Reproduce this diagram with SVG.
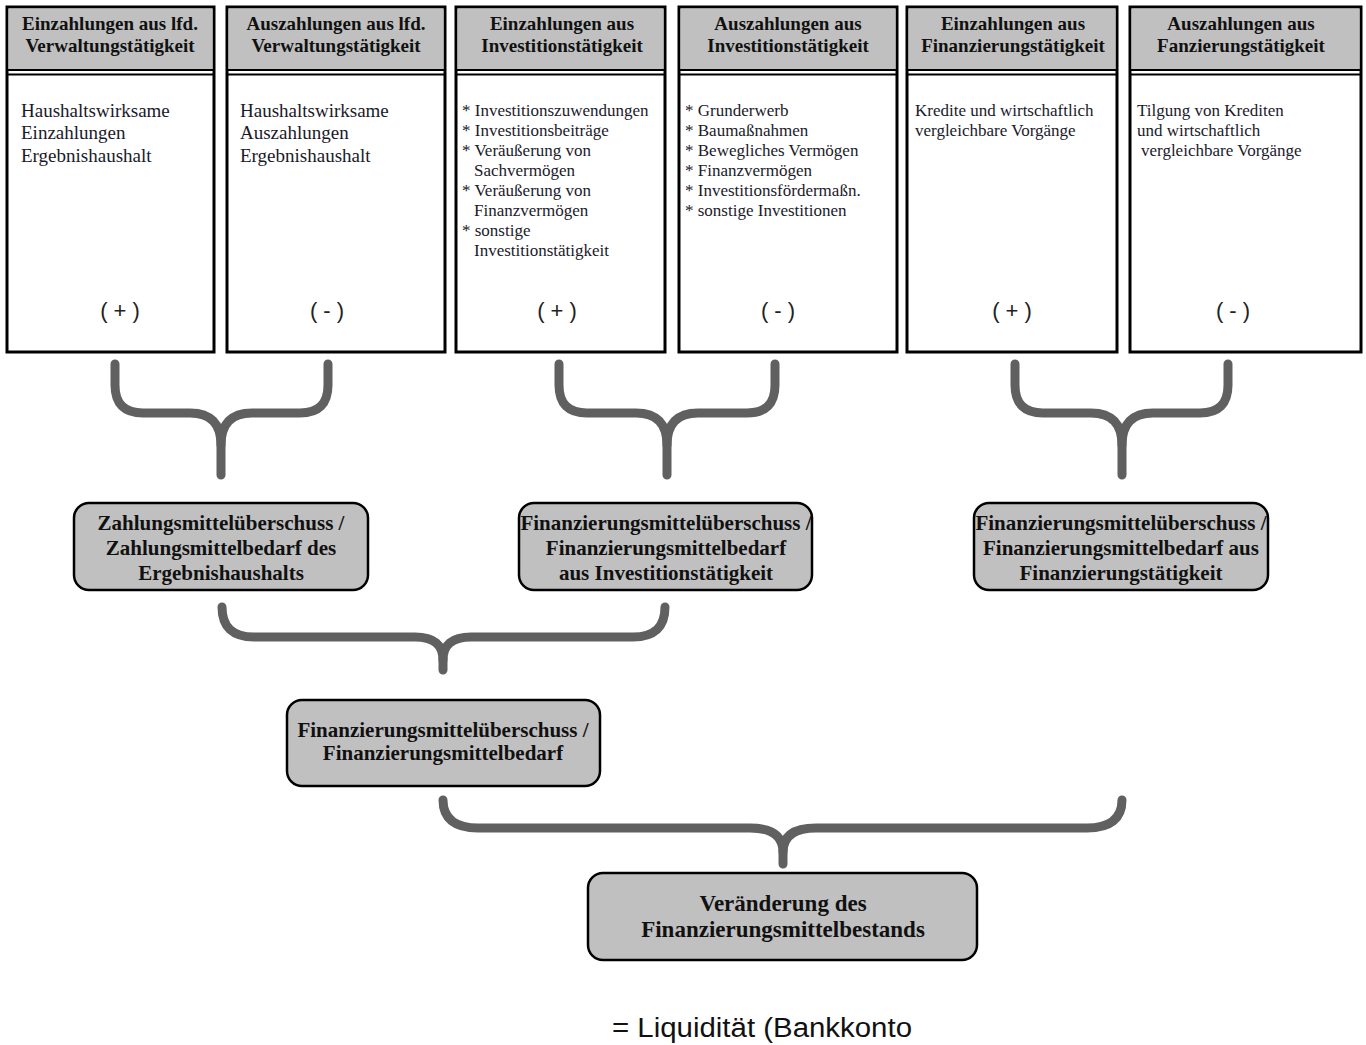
<svg xmlns="http://www.w3.org/2000/svg" width="1366" height="1045" viewBox="0 0 1366 1045">
<style>
.col rect.frame{fill:#fff;stroke:#000;stroke-width:3}
.col rect.head{fill:#c0c0c0;stroke:none}
.col line{stroke:#000;stroke-width:2}
.ht{font-family:"Liberation Serif",serif;font-weight:bold;font-size:19px;fill:#111;text-anchor:middle}
.bt{font-family:"Liberation Serif",serif;font-size:19px;fill:#1a1a2a}
.bs{font-family:"Liberation Serif",serif;font-size:17px;fill:#1a1a2a}
.sg{font-family:"Liberation Sans",sans-serif;font-size:22px;fill:#222;text-anchor:middle}
.box rect{fill:#c0c0c0;stroke:#000;stroke-width:2.5}
.bx{font-family:"Liberation Serif",serif;font-weight:bold;font-size:21px;fill:#111;text-anchor:middle}
.brace path{fill:none;stroke:#606060;stroke-width:9;stroke-linecap:round;stroke-linejoin:round}
</style>
<rect width="1366" height="1045" fill="#fff"/>

<g id="col1" class="col">
<rect class="frame" x="7" y="7" width="207" height="345"/>
<rect class="head" x="8.5" y="8.5" width="204" height="61"/>
<line x1="7" y1="70" x2="214" y2="70"/><line x1="7" y1="74.5" x2="214" y2="74.5"/>
<text class="ht" x="110" y="30">Einzahlungen aus lfd.</text>
<text class="ht" x="110" y="52">Verwaltungstätigkeit</text>
<text class="bt" x="21" y="117">Haushaltswirksame</text>
<text class="bt" x="21" y="139">Einzahlungen</text>
<text class="bt" x="21" y="162">Ergebnishaushalt</text>
<text class="sg" x="120" y="318">( + )</text>
</g>

<g id="col2" class="col">
<rect class="frame" x="227" y="7" width="218" height="345"/>
<rect class="head" x="228.5" y="8.5" width="215" height="61"/>
<line x1="227" y1="70" x2="445" y2="70"/><line x1="227" y1="74.5" x2="445" y2="74.5"/>
<text class="ht" x="336" y="30">Auszahlungen aus lfd.</text>
<text class="ht" x="336" y="52">Verwaltungstätigkeit</text>
<text class="bt" x="240" y="117">Haushaltswirksame</text>
<text class="bt" x="240" y="139">Auszahlungen</text>
<text class="bt" x="240" y="162">Ergebnishaushalt</text>
<text class="sg" x="327" y="318">( - )</text>
</g>

<g id="col3" class="col">
<rect class="frame" x="456" y="7" width="209" height="345"/>
<rect class="head" x="457.5" y="8.5" width="206" height="61"/>
<line x1="456" y1="70" x2="665" y2="70"/><line x1="456" y1="74.5" x2="665" y2="74.5"/>
<text class="ht" x="562" y="30">Einzahlungen aus</text>
<text class="ht" x="562" y="52">Investitionstätigkeit</text>
<text class="bs" x="462" y="116">* Investitionszuwendungen</text>
<text class="bs" x="462" y="136">* Investitionsbeiträge</text>
<text class="bs" x="462" y="156">* Veräußerung von</text>
<text class="bs" x="474" y="176">Sachvermögen</text>
<text class="bs" x="462" y="196">* Veräußerung von</text>
<text class="bs" x="474" y="216">Finanzvermögen</text>
<text class="bs" x="462" y="236">* sonstige</text>
<text class="bs" x="474" y="256">Investitionstätigkeit</text>
<text class="sg" x="557" y="318">( + )</text>
</g>

<g id="col4" class="col">
<rect class="frame" x="679" y="7" width="218" height="345"/>
<rect class="head" x="680.5" y="8.5" width="215" height="61"/>
<line x1="679" y1="70" x2="897" y2="70"/><line x1="679" y1="74.5" x2="897" y2="74.5"/>
<text class="ht" x="788" y="30">Auszahlungen aus</text>
<text class="ht" x="788" y="52">Investitionstätigkeit</text>
<text class="bs" x="685" y="116">* Grunderwerb</text>
<text class="bs" x="685" y="136">* Baumaßnahmen</text>
<text class="bs" x="685" y="156">* Bewegliches Vermögen</text>
<text class="bs" x="685" y="176">* Finanzvermögen</text>
<text class="bs" x="685" y="196">* Investitionsfördermaßn.</text>
<text class="bs" x="685" y="216">* sonstige Investitionen</text>
<text class="sg" x="778" y="318">( - )</text>
</g>

<g id="col5" class="col">
<rect class="frame" x="907" y="7" width="210" height="345"/>
<rect class="head" x="908.5" y="8.5" width="207" height="61"/>
<line x1="907" y1="70" x2="1117" y2="70"/><line x1="907" y1="74.5" x2="1117" y2="74.5"/>
<text class="ht" x="1013" y="30">Einzahlungen aus</text>
<text class="ht" x="1013" y="52">Finanzierungstätigkeit</text>
<text class="bs" x="915" y="116">Kredite und wirtschaftlich</text>
<text class="bs" x="915" y="136">vergleichbare Vorgänge</text>
<text class="sg" x="1012" y="318">( + )</text>
</g>

<g id="col6" class="col">
<rect class="frame" x="1130" y="7" width="231" height="345"/>
<rect class="head" x="1131.5" y="8.5" width="228" height="61"/>
<line x1="1130" y1="70" x2="1361" y2="70"/><line x1="1130" y1="74.5" x2="1361" y2="74.5"/>
<text class="ht" x="1241" y="30">Auszahlungen aus</text>
<text class="ht" x="1241" y="52">Fanzierungstätigkeit</text>
<text class="bs" x="1137" y="116">Tilgung von Krediten</text>
<text class="bs" x="1137" y="136">und wirtschaftlich</text>
<text class="bs" x="1141" y="156">vergleichbare Vorgänge</text>
<text class="sg" x="1233" y="318">( - )</text>
</g>

<g id="connectors" class="brace">
<path d="M115,364 L115,385 Q115,413 143,413 L190,413 Q221,413 221,445 L221,475"/>
<path d="M328,364 L328,385 Q328,413 300,413 L252,413 Q221,413 221,445"/>
<path d="M559,364 L559,385 Q559,413 587,413 L636,413 Q667,413 667,445 L667,475"/>
<path d="M775,364 L775,385 Q775,413 747,413 L698,413 Q667,413 667,445"/>
<path d="M1015,364 L1015,385 Q1015,413 1043,413 L1091,413 Q1122,413 1122,445 L1122,475"/>
<path d="M1228,364 L1228,385 Q1228,413 1200,413 L1153,413 Q1122,413 1122,445"/>
<path d="M222,607 Q222,637 254,637 L415,637 Q443,637 443,660 L443,670"/>
<path d="M665,607 Q665,637 633,637 L471,637 Q443,637 443,660"/>
<path d="M443,800 Q443,828 478,828 L750,828 Q783,828 783,852 L783,864"/>
<path d="M1122,800 Q1122,828 1087,828 L816,828 Q783,828 783,852"/>
</g>

<g id="box1" class="box">
<rect x="74" y="503" width="294" height="87" rx="15"/>
<text class="bx" x="221" y="530">Zahlungsmittelüberschuss /</text>
<text class="bx" x="221" y="555">Zahlungsmittelbedarf des</text>
<text class="bx" x="221" y="580">Ergebnishaushalts</text>
</g>

<g id="box2" class="box">
<rect x="519" y="503" width="293" height="87" rx="15"/>
<text class="bx" x="666" y="530">Finanzierungsmittelüberschuss /</text>
<text class="bx" x="666" y="555">Finanzierungsmittelbedarf</text>
<text class="bx" x="666" y="580">aus Investitionstätigkeit</text>
</g>

<g id="box3" class="box">
<rect x="974" y="503" width="294" height="87" rx="15"/>
<text class="bx" x="1121" y="530">Finanzierungsmittelüberschuss /</text>
<text class="bx" x="1121" y="555">Finanzierungsmittelbedarf aus</text>
<text class="bx" x="1121" y="580">Finanzierungstätigkeit</text>
</g>

<g id="box4" class="box">
<rect x="287" y="700" width="313" height="86" rx="15"/>
<text class="bx" x="443" y="737">Finanzierungsmittelüberschuss /</text>
<text class="bx" x="443" y="760">Finanzierungsmittelbedarf</text>
</g>

<g id="box5" class="box">
<rect x="588" y="873" width="389" height="87" rx="15"/>
<text class="bx" x="783" y="911" style="font-size:23px">Veränderung des</text>
<text class="bx" x="783" y="937" style="font-size:23px">Finanzierungsmittelbestands</text>
</g>

<text x="612" y="1037" textLength="300" lengthAdjust="spacingAndGlyphs" style="font-family:'Liberation Sans',sans-serif;font-size:27px;fill:#111">= Liquidität (Bankkonto</text>
</svg>
